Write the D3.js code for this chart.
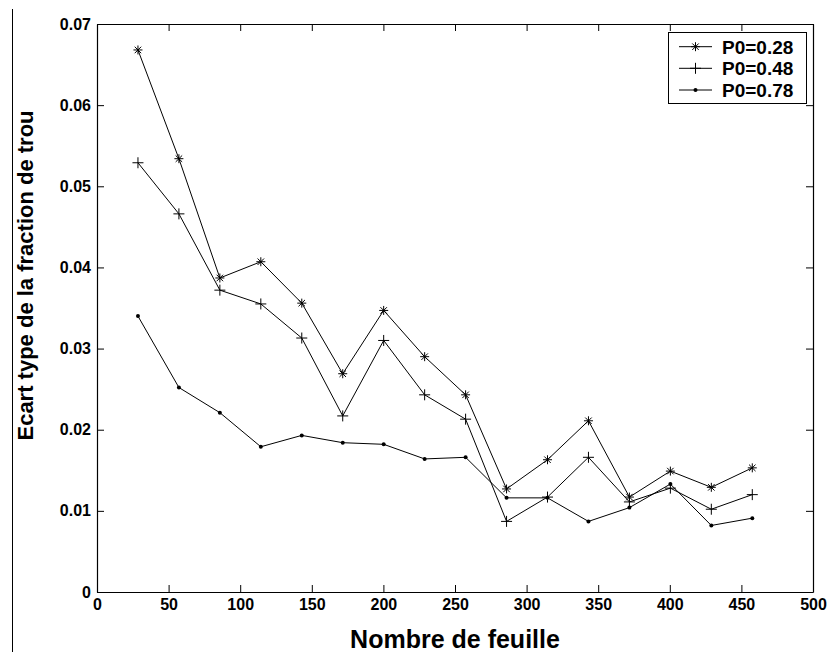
<!DOCTYPE html>
<html>
<head>
<meta charset="utf-8">
<script src="https://cdn.jsdelivr.net/npm/d3@7"></script>
<style>
  html, body { margin: 0; padding: 0; background: #fff; }
  svg { display: block; font-family: Arial, "Liberation Sans", sans-serif; }
</style>
</head>
<body>
<svg id="chart" width="829" height="652"></svg>
<script>
const nFeuilles = [28.6, 57.2, 85.8, 114.4, 143, 171.6, 200.2, 228.8, 257.4, 286, 314.6, 343.2, 371.8, 400.4, 429, 457.6];
const p028 = [0.0668, 0.0534, 0.0387, 0.0407, 0.0356, 0.0269, 0.0347, 0.0290, 0.0243, 0.0127, 0.0163, 0.0211, 0.0117, 0.0149, 0.0129, 0.0153];
const p048 = [0.0529, 0.0466, 0.0372, 0.0355, 0.0313, 0.0217, 0.0310, 0.0243, 0.0213, 0.0087, 0.0117, 0.0166, 0.0111, 0.0128, 0.0102, 0.0120];
const p078 = [0.0340, 0.0252, 0.0221, 0.0179, 0.0193, 0.0184, 0.0182, 0.0164, 0.0166, 0.0116, 0.0116, 0.0087, 0.0104, 0.0133, 0.0082, 0.0091];
const seriesNames = ["P0=0.28", "P0=0.48", "P0=0.78"];
const markerTypes = ["star", "plus", "dot"];
const xTicks = [0, 50, 100, 150, 200, 250, 300, 350, 400, 450, 500];
const yTicks = [0, 0.01, 0.02, 0.03, 0.04, 0.05, 0.06, 0.07];

const FONT = 'Arial, "Liberation Sans", sans-serif';
const svg = d3.select("#chart");
const L = 97, R = 813, T = 24, B = 592;
const x = d3.scaleLinear().domain([0, 500]).range([L, R]);
const y = d3.scaleLinear().domain([0, 0.07]).range([B, T]);

// stray left border line
svg.append("line").attr("x1", 12.5).attr("x2", 12.5).attr("y1", 9).attr("y2", 652)
  .attr("stroke", "#000").attr("stroke-width", 1);

const fmtY = d => d === 0 ? "0" : d3.format(".2f")(d);

const axB = svg.append("g").attr("transform", `translate(0,${B})`)
  .call(d3.axisBottom(x).tickValues(xTicks).tickFormat(d3.format("d")).tickSizeInner(-7).tickSizeOuter(0).tickPadding(7));
svg.append("g").attr("transform", `translate(0,${T})`)
  .call(d3.axisTop(x).tickValues(xTicks).tickFormat("").tickSizeInner(-7).tickSizeOuter(0));
const axL = svg.append("g").attr("transform", `translate(${L},0)`)
  .call(d3.axisLeft(y).tickValues(yTicks).tickFormat(fmtY).tickSizeInner(-7).tickSizeOuter(0).tickPadding(6));
svg.append("g").attr("transform", `translate(${R},0)`)
  .call(d3.axisRight(y).tickValues(yTicks).tickFormat("").tickSizeInner(-7).tickSizeOuter(0));

[axB, axL].forEach(a => a.attr("font-family", FONT).attr("font-size", 16).attr("font-weight", "bold")
  .selectAll("text").attr("fill", "#000"));
svg.selectAll(".domain").attr("stroke", "#000").attr("stroke-width", 1.2);
svg.selectAll(".tick line").attr("stroke", "#000");

function drawMarker(g, type, cx, cy) {
  if (type === "star") {
    const r = 4.5, d = r * 0.72;
    g.append("path").attr("d",
      `M${cx - r},${cy}H${cx + r}M${cx},${cy - r}V${cy + r}` +
      `M${cx - d},${cy - d}L${cx + d},${cy + d}M${cx - d},${cy + d}L${cx + d},${cy - d}`)
      .attr("stroke", "#000").attr("stroke-width", 1).attr("fill", "none");
  } else if (type === "plus") {
    const r = 5.5;
    g.append("path").attr("d", `M${cx - r},${cy}H${cx + r}M${cx},${cy - r}V${cy + r}`)
      .attr("stroke", "#000").attr("stroke-width", 1).attr("fill", "none");
  } else {
    g.append("circle").attr("cx", cx).attr("cy", cy).attr("r", 2).attr("fill", "#000");
  }
}

const allSeries = [p028, p048, p078];
const line = d3.line().x(d => x(d[0])).y(d => y(d[1]));
allSeries.forEach((vals, i) => {
  const pts = nFeuilles.map((n, j) => [n, vals[j]]);
  const g = svg.append("g");
  g.append("path").datum(pts).attr("d", line).attr("fill", "none").attr("stroke", "#000").attr("stroke-width", 1);
  pts.forEach(p => drawMarker(g, markerTypes[i], x(p[0]), y(p[1])));
});

// legend
const lg = svg.append("g");
lg.append("rect").attr("x", 668.5).attr("y", 32.5).attr("width", 138).attr("height", 71)
  .attr("fill", "#fff").attr("stroke", "#000").attr("stroke-width", 1);
const legY = [46.7, 68.3, 90];
seriesNames.forEach((name, i) => {
  const ly = legY[i];
  lg.append("line").attr("x1", 679).attr("x2", 712).attr("y1", ly).attr("y2", ly)
    .attr("stroke", "#000").attr("stroke-width", 1);
  drawMarker(lg, markerTypes[i], 695.5, ly);
  lg.append("text").attr("x", 722).attr("y", ly).attr("dy", "0.36em")
    .attr("font-family", FONT).attr("font-size", 19).attr("font-weight", "bold").attr("fill", "#000").text(name);
});

// axis labels
svg.append("text").attr("x", 455).attr("y", 647.5).attr("text-anchor", "middle")
  .attr("font-family", FONT).attr("font-size", 25).attr("font-weight", "bold").attr("fill", "#000").text("Nombre de feuille");
svg.append("text").attr("transform", "translate(33,275.5) rotate(-90)").attr("text-anchor", "middle")
  .attr("font-family", FONT).attr("font-size", 22).attr("font-weight", "bold").attr("fill", "#000").text("Ecart type de la fraction de trou");
</script>
</body>
</html>
